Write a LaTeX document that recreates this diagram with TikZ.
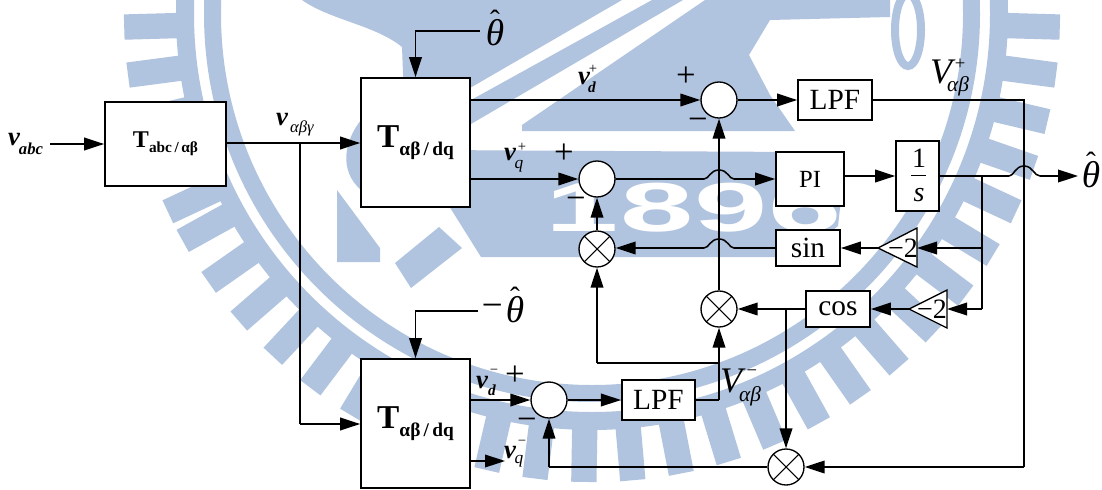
\documentclass[tikz,border=0pt]{standalone}
\usepackage{fontspec}
\setmainfont{Liberation Serif}
\newfontfamily\wmfont{Liberation Sans}
\usetikzlibrary{arrows.meta,shapes.geometric,calc}
\definecolor{wm}{HTML}{B1C4DF}
\tikzset{x=0.75pt,y=-0.75pt,
 wire/.style={line width=1.15pt,line join=miter},
 arr/.style={wire,-{Triangle[length=15pt,width=9.5pt]}},
 blk/.style={draw,line width=1.3pt,fill=white,inner sep=0pt},
 sumj/.style={draw,line width=1pt,ellipse,fill=white,minimum width=27pt,minimum height=27pt,inner sep=0pt},
 mulj/.style={sumj,path picture={\draw[line width=0.8pt] ($(path picture bounding box.center)+(-9.6pt,-9.6pt)$)--($(path picture bounding box.center)+(9.6pt,9.6pt)$) ($(path picture bounding box.center)+(-9.6pt,9.6pt)$)--($(path picture bounding box.center)+(9.6pt,-9.6pt)$);}},
 big/.style={inner sep=0pt,font=\fontsize{28}{28}\selectfont\itshape},
 sgn/.style={inner sep=0pt,font=\fontsize{26}{26}\selectfont},
 vb/.style={inner sep=0pt,font=\fontsize{20}{20}\selectfont\bfseries\itshape},
 supr/.style={inner sep=0pt,font=\fontsize{11}{11}\selectfont},
 subd/.style={inner sep=0pt,font=\fontsize{11.5}{11.5}\selectfont\bfseries\itshape},
 subq/.style={inner sep=0pt,font=\fontsize{13}{13}\selectfont\itshape},
 capv/.style={inner sep=0pt,font=\fontsize{27}{27}\selectfont\itshape},
 gr/.style={inner sep=0pt,font=\fontsize{16}{16}\selectfont\itshape},
 num/.style={inner sep=0pt,font=\fontsize{21}{21}\selectfont},
 wmd/.style={white,inner sep=0pt,xscale=1.9,font=\fontsize{52}{52}\selectfont\bfseries\wmfont},
 tri/.style={draw,line width=1pt,fill=white}}
\newcommand{\thhat}{\ensuremath{\vcenter{\hbox{\ooalign{\hfil\raisebox{0.42em}{\upshape\fontsize{22}{22}\selectfont\char"02C6}\hfil\cr\itshape θ}}}}}
\begin{document}
\begin{tikzpicture}
\useasboundingbox (0,0) rectangle (1102,489);
\fill[white] (0,0) rectangle (1102,489);
\begin{scope}
\clip (0,0) rectangle (1102,489);
% faint seal behind the diagram
\draw[wm,line width=12.75pt] (592,14) circle[radius=379.5];
\draw[wm,line width=13.5pt] (592,14) circle[radius=407];
\foreach \t in {1.6,7.5,13.3,19.2,25,31,37,43,49,55,61,67,73,79,85,91,97,103,109,115,121,127,133,139,145,151,155,160.8,166.7,172.5,178.4}{
 \draw[wm,line width=19pt] ($(592,14)+(\t:414)$) -- ($(592,14)+(\t:468)$);
}
\fill[wm] (302,0) .. controls (330,20) and (375,25) .. (402,47) -- (404,100) -- (470,88) -- (622,0) -- cycle;
\fill[wm] (652,0) -- (471,100) -- (471,124) -- (683,0) -- cycle;
\fill[wm] (705,0) -- (522,125) -- (522,131) -- (795,131) -- (770,95) -- (749,55) -- (770,20) -- (890,17) -- (890,0) -- cycle;
\fill[wm] (430,150) -- (800,152) -- (842,190) -- (838,226) -- (800,257) -- (481,257) -- (439,190) -- cycle;
\fill[wm] (361,120) .. controls (345,140) and (338,170) .. (361,190) -- (380,190) -- (380,120) -- cycle;
\fill[wm] (337,190) -- (380,248) -- (380,262) -- (337,262) -- cycle;
\fill[wm] (395,263) -- (439,227) -- (462,248) -- (411,288) -- cycle;
\draw[wm,line width=6pt] (908,30) ellipse[x radius=13,y radius=36];
\node[wmd] (d1) at (582,208) {1};
\node[wmd] (d8) at (657,208) {8};
\node[wmd] (d9) at (731,208) {9};
\node[wmd] (d6) at (805,208) {6};
\end{scope}

% blocks
\node[blk,minimum width=90.75pt,minimum height=63pt] (tabc) at (165.5,144) {\fontsize{18}{18}\selectfont\bfseries T\raisebox{-0.22em}{\fontsize{11.5}{11.5}\selectfont abc\,/\,αβ}};
\node[blk,minimum width=81.75pt,minimum height=96.75pt] (t1) at (415.5,142.5) {\fontsize{25}{25}\selectfont\bfseries T\raisebox{-0.22em}{\fontsize{14.5}{14.5}\selectfont αβ\,/\,dq}};
\node[blk,minimum width=81.75pt,minimum height=96.75pt] (t2) at (415.5,423.5) {\fontsize{25}{25}\selectfont\bfseries T\raisebox{-0.22em}{\fontsize{14.5}{14.5}\selectfont αβ\,/\,dq}};
\node[blk,minimum width=55.5pt,minimum height=30pt,font=\fontsize{22}{22}\selectfont] (lpfa) at (835,100) {LPF};
\node[blk,minimum width=55pt,minimum height=30.5pt,font=\fontsize{22}{22}\selectfont] (lpfb) at (658.5,400) {LPF};
\node[blk,minimum width=51pt,minimum height=41pt,font=\fontsize{18.5}{18.5}\selectfont] (pi) at (810,179) {PI};
\node[blk,minimum width=32.25pt,minimum height=52.5pt] (int) at (917.5,176) {};
\node[num] (one) at (919,158) {1};
\node[inner sep=0pt,font=\fontsize{21}{21}\selectfont\itshape] (ess) at (919,195) {s};
\coordinate (fl) at (911,175.5);\coordinate (fr) at (926,175.5);
\draw[line width=0.8pt] (fl)--(fr);
\node[blk,minimum width=48pt,minimum height=27pt,font=\fontsize{22}{22}\selectfont] (sin) at (808,248) {sin};
\node[blk,minimum width=48pt,minimum height=26.5pt,font=\fontsize{22}{22}\selectfont] (cos) at (838,309) {cos};

\node[sumj] (s1) at (719,100) {};
\node[sumj] (s2) at (597,179) {};
\node[sumj] (s3) at (549,400) {};
\node[mulj] (m1) at (597,249) {};
\node[mulj] (m2) at (719,309) {};
\node[mulj] (m3) at (786,467) {};

\coordinate (ta1) at (878,248);\coordinate (tb1) at (917,228);\coordinate (tc1) at (917,267);
\draw[tri] (ta1)--(tb1)--(tc1)--cycle;
\node[num] (g1) at (903,248) {−2};
\coordinate (ta2) at (909,309);\coordinate (tb2) at (947,290);\coordinate (tc2) at (947,328);
\draw[tri] (ta2)--(tb2)--(tc2)--cycle;
\node[num] (g2) at (932,309) {−2};

% input
\coordinate (vin) at (50,144);
\draw[arr] (vin)--(tabc.west);
\coordinate (j1) at (300,143);
\draw[arr] (tabc.east|-j1)--(t1.west|-j1);
\coordinate (j1b) at (300,424);
\draw[wire] (j1)--(j1b);
\draw[arr] (j1b)--(t2.west|-j1b);
% thetas
\coordinate (thA) at (480,31);
\draw[arr] (thA)-|(t1.north);
\coordinate (thB) at (478,311);
\draw[arr] (thB)-|(t2.north);
% top row
\draw[arr] (t1.east|-s1)--(s1.west);
\draw[arr] (s1.east)--(lpfa.west);
% second row with hop
\coordinate (b1) at (704,179);\coordinate (b2) at (734,179);
\draw[arr] (t1.east|-s2)--(s2.west);
\draw[wire] (s2.east)--(b1) .. controls (709,179) and (710,170) .. (719,170) .. controls (728,170) and (729,179) .. (b2);
\draw[arr] (b2)--(pi.west|-b2);
\draw[arr] (pi.east|-int)--(int.west);
\coordinate (b3) at (1009,176);\coordinate (b4) at (1040,176);
\coordinate (thC) at (1078,176);
\draw[wire] (int.east)--(b3) .. controls (1014,176) and (1015,166) .. (1024,166) .. controls (1033,166) and (1034,176) .. (b4);
\draw[arr] (b4)--(thC);
% right rail
\coordinate (j2) at (982,176);\coordinate (j3) at (982,248);\coordinate (j4) at (982,309);
\draw[wire] (j2)--(j4);
\draw[arr] (j3)--(tb1|-j3);
\draw[arr] (j4)--(tb2|-j4);
\draw[arr] (ta1)--(sin.east);
\draw[arr] (ta2)--(cos.east);
% sin to multiplier
\coordinate (b5) at (734,248);\coordinate (b6) at (704,248);
\draw[wire] (sin.west|-b5)--(b5) .. controls (729,248) and (728,239) .. (719,239) .. controls (710,239) and (709,248) .. (b6);
\draw[arr] (b6)--(m1.east|-b6);
\draw[arr] (m1.north)--(s2.south);
% cos to multiplier
\draw[arr] (cos.west)--(m2.east);
\coordinate (j5) at (786,309);
\draw[arr] (j5)--(m3.north);
\draw[arr] (m2.north)--(s1.south);
% lower chain
\draw[arr] (t2.east|-s3)--(s3.west);
\draw[arr] (s3.east)--(lpfb.west);
\coordinate (c1) at (719,400);\coordinate (c2) at (719,363);\coordinate (c3) at (597,363);
\draw[wire] (lpfb.east)--(c1);
\draw[arr] (c1)--(m2.south);
\draw[wire] (c2)--(c3);
\draw[arr] (c3)--(m1.south);
\coordinate (q1) at (505,461);
\draw[arr] (t2.east|-q1)--(q1);
% lpfa to m3
\coordinate (d1) at (1024,100);\coordinate (d2) at (1024,467);
\draw[wire] (lpfa.east)--(d1)--(d2);
\draw[arr] (d2)--(m3.east);
\coordinate (e1) at (549,467);
\draw[wire] (m3.west)--(e1);
\draw[arr] (e1)--(s3.south);

% labels
\node[vb] (la) at (14,140) {v};
\node[subd,font=\fontsize{12.5}{12.5}\selectfont\bfseries\itshape] (la1) at (31,149) {abc};
\node[vb] (lb) at (282,120) {v};
\node[gr,font=\fontsize{12.5}{12.5}\selectfont\itshape] (lb1) at (302,128) {αβγ};
\node[sgn] (lc) at (686,77) {+};
\node[sgn] (ld) at (564,154) {+};
\node[sgn] (le) at (515,376) {+};
\node[sgn] (lf) at (698,124) {−};
\node[sgn] (lg) at (576,203) {−};
\node[sgn] (lh) at (527,424) {−};
\node[vb] (vd) at (584,79) {v};
\node[subd] (vd1) at (592,87) {d};
\node[supr] (vd2) at (593,69) {+};
\node[vb] (vq) at (510,155) {v};
\node[subq] (vq1) at (519,166) {q};
\node[supr] (vq2) at (522,147) {+};
\node[vb] (vdm) at (482,382) {v};
\node[subd] (vdm1) at (492,390) {d};
\node[supr] (vdm2) at (494,372) {−};
\node[vb] (vqm) at (510,452) {v};
\node[subq] (vqm1) at (519,461) {q};
\node[supr] (vqm2) at (522,443) {−};
\node[capv] (vp) at (941,72) {V};
\node[supr,font=\fontsize{14}{14}\selectfont] (vp2) at (960,64) {+};
\node[gr] (vp1) at (958,86) {αβ};
\node[capv] (vm) at (731,381) {V};
\node[supr,font=\fontsize{14}{14}\selectfont] (vm2) at (752,373) {−};
\node[gr] (vm1) at (750,396) {αβ};
\node[big] (tA) at (495,28) {\thhat};
\node[big] (tBm) at (492,311) {−};
\node[big] (tB) at (515,305) {\thhat};
\node[big] (tC) at (1091,170) {\thhat};
\end{tikzpicture}
\end{document}
